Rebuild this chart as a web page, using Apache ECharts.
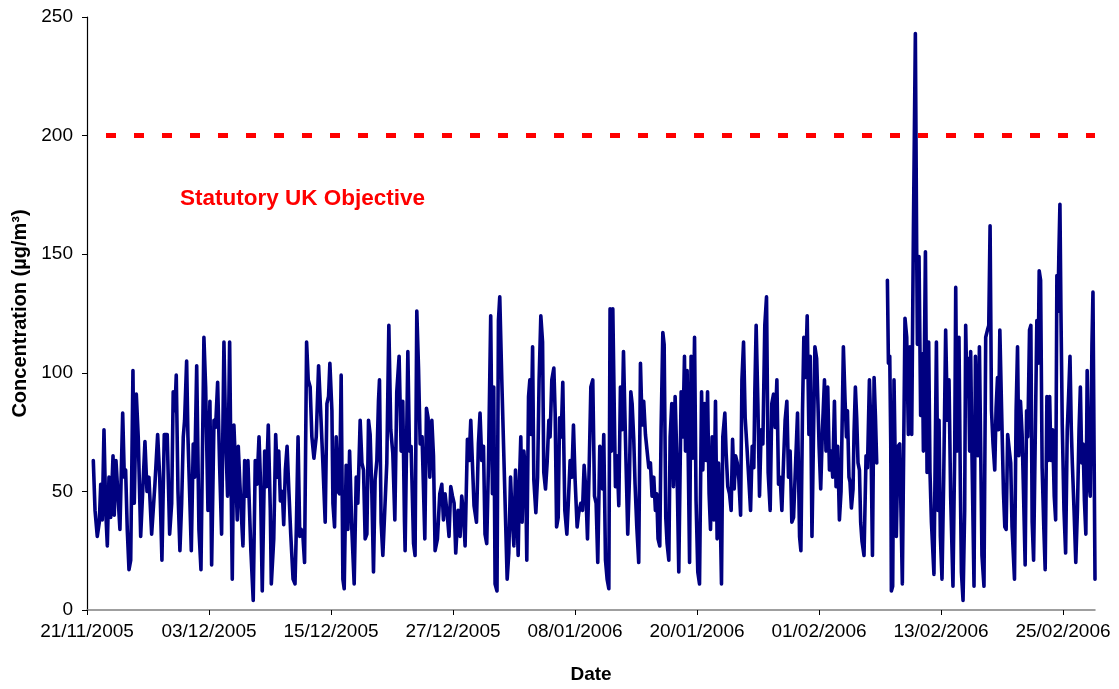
<!DOCTYPE html>
<html>
<head>
<meta charset="utf-8">
<title>Hourly concentration, November 2005 to February 2006</title>
<script src="https://cdn.jsdelivr.net/npm/echarts@6/dist/echarts.min.js"></script>
<style>
  html, body { margin: 0; padding: 0; background: #ffffff; }
  #chart { width: 1119px; height: 689px; }
</style>
</head>
<body>
<div id="chart"></div>
<script>
// Samples per month: [day of month (fraction = time of day), concentration µg/m³]
const nov05 = [
  [21.62,63],[21.79,42],[22.01,31],[22.21,37],[22.35,53],[22.50,38],[22.67,76],[22.84,42],[23.00,27],[23.16,56],
  [23.33,39],[23.56,65],[23.68,40],[23.85,63],[24.24,34],[24.51,83],[24.67,56],[24.80,59],[24.96,34],[25.13,17],
  [25.30,21],[25.52,101],[25.65,45],[25.85,91],[26.04,73],[26.28,31],[26.70,71],[26.90,50],[27.09,56],[27.36,32],
  [27.68,53],[27.95,74],[28.15,56],[28.37,21],[28.60,74],[28.89,74],[29.13,32],[29.33,45],[29.48,92],[29.65,84],
  [29.78,99],[29.95,50],[30.14,25],[30.31,45],[30.47,73],[30.60,80],[30.80,105],[30.93,73]
];
const dec05 = [
  [1.13,44],[1.26,25],[1.45,70],[1.59,56],[1.79,103],[2.01,34],[2.21,17],[2.50,115],[2.67,94],[2.90,42],
  [3.09,88],[3.26,19],[3.49,80],[3.65,77],[3.85,96],[4.05,60],[4.24,32],[4.47,113],[4.64,73],[4.83,48],
  [5.03,113],[5.19,48],[5.29,13],[5.45,78],[5.62,59],[5.78,38],[5.88,69],[6.04,53],[6.21,38],[6.34,27],
  [6.51,63],[6.66,48],[6.83,63],[6.93,49],[7.12,25],[7.35,4],[7.55,63],[7.72,53],[7.92,73],[8.05,56],
  [8.24,8],[8.48,67],[8.64,52],[8.83,78],[9.03,42],[9.13,11],[9.37,30],[9.56,74],[9.72,56],[9.86,67],
  [10.02,46],[10.21,50],[10.35,36],[10.51,59],[10.68,69],[10.87,49],[11.04,32],[11.27,13],[11.46,11],[11.59,34],
  [11.76,73],[11.93,31],[12.07,34],[12.24,31],[12.40,20],[12.60,113],[12.76,97],[12.95,94],[13.12,73],[13.32,64],
  [13.55,73],[13.78,103],[13.98,84],[14.20,62],[14.43,37],[14.60,87],[14.76,90],[14.89,104],[15.09,84],[15.19,45],
  [15.35,35],[15.51,73],[15.68,50],[15.84,49],[16.00,99],[16.17,13],[16.30,9],[16.49,61],[16.66,34],[16.83,67],
  [17.05,34],[17.28,11],[17.48,56],[17.64,45],[17.87,80],[18.04,62],[18.20,59],[18.36,30],[18.53,32],[18.69,80],
  [18.85,74],[19.02,49],[19.18,16],[19.34,55],[19.51,63],[19.67,88],[19.77,97],[19.93,37],[20.10,23],[20.26,39],
  [20.49,62],[20.69,120],[20.88,76],[21.08,66],[21.28,38],[21.47,92],[21.70,107],[21.90,67],[22.06,88],[22.23,37],
  [22.29,25],[22.56,109],[22.72,67],[22.88,69],[23.12,28],[23.27,23],[23.44,126],[23.61,102],[23.77,70],[23.96,73],
  [24.23,30],[24.39,85],[24.55,81],[24.72,56],[24.92,80],[25.08,65],[25.24,25],[25.47,30],[25.70,49],[25.90,53],
  [26.06,38],[26.22,49],[26.46,39],[26.61,31],[26.78,52],[26.95,48],[27.11,45],[27.27,24],[27.50,42],[27.70,31],
  [27.86,48],[28.03,41],[28.19,27],[28.42,72],[28.58,63],[28.75,80],[28.92,80],[29.07,44],[29.31,37],[29.50,70],
  [29.66,83],[29.83,63],[30.00,69],[30.15,32],[30.32,28],[30.49,62],[30.71,124],[30.88,49],[31.01,94],[31.14,11],
  [31.33,8],[31.47,122],[31.60,132],[31.80,97]
];
const jan06 = [
  [1.33,13],[1.49,24],[1.66,56],[1.82,39],[1.99,27],[2.15,59],[2.28,44],[2.41,23],[2.55,56],[2.67,73],
  [2.80,37],[2.97,67],[3.14,58],[3.26,21],[3.43,90],[3.56,97],[3.69,74],[3.83,111],[3.95,55],[4.15,41],
  [4.32,56],[4.47,97],[4.64,124],[4.81,113],[4.93,58],[5.10,51],[5.26,62],[5.43,80],[5.55,73],[5.72,97],
  [5.92,102],[6.05,83],[6.19,35],[6.35,39],[6.48,81],[6.64,73],[6.80,96],[7.00,42],[7.20,32],[7.33,44],
  [7.52,63],[7.69,56],[7.85,78],[8.01,55],[8.21,35],[8.37,41],[8.57,45],[8.74,42],[8.90,61],[9.06,51],
  [9.23,30],[9.39,59],[9.56,94],[9.75,97],[9.92,48],[10.08,45],[10.24,20],[10.44,69],[10.57,67],[10.71,51],
  [10.83,74],[11.00,21],[11.16,13],[11.33,9],[11.45,127],[11.59,67],[11.72,127],[11.88,80],[11.98,52],[12.14,65],
  [12.31,44],[12.47,94],[12.63,76],[12.77,109],[12.90,84],[13.06,55],[13.19,32],[13.36,56],[13.49,92],[13.62,87],
  [13.78,72],[13.91,53],[14.08,35],[14.27,20],[14.44,104],[14.60,78],[14.76,88],[14.93,74],[15.09,74],[15.26,60],
  [15.42,62],[15.58,48],[15.75,56],[15.91,42],[16.04,49],[16.17,30],[16.34,27],[16.47,76],[16.64,117],[16.77,112],
  [16.93,39],[17.06,28],[17.23,21],[17.36,73],[17.52,87],[17.69,52],[17.85,90],[18.02,64],[18.21,16],[18.44,92],
  [18.61,73],[18.77,107],[18.87,67],[19.03,101],[19.27,20],[19.42,107],[19.59,64],[19.76,115],[19.91,46],[20.08,16],
  [20.25,11],[20.45,92],[20.57,59],[20.74,87],[20.90,63],[21.04,92],[21.19,49],[21.33,34],[21.49,73],[21.66,38],
  [21.82,88],[21.98,30],[22.12,62],[22.31,35],[22.41,11],[22.54,73],[22.74,83],[22.87,66],[23.03,52],[23.20,49],
  [23.36,42],[23.50,72],[23.66,51],[23.80,65],[23.96,62],[24.12,55],[24.29,40],[24.42,97],[24.58,113],[24.74,81],
  [24.91,69],[25.10,55],[25.27,42],[25.43,69],[25.59,60],[25.69,92],[25.82,120],[25.99,87],[26.15,48],[26.31,76],
  [26.48,70],[26.67,120],[26.84,132],[27.00,58],[27.20,42],[27.36,87],[27.53,91],[27.69,77],[27.86,97],[28.02,53],
  [28.18,56],[28.35,42],[28.51,62],[28.67,80],[28.84,88],[29.00,56],[29.16,67],[29.33,37],[29.50,39],[29.65,56],
  [29.89,83],[30.09,31],[30.22,25],[30.38,84],[30.51,115],[30.68,98],[30.84,124],[31.01,74],[31.14,107],[31.31,31],
  [31.47,76],[31.60,111],[31.77,106],[31.90,87]
];
// null marks the hours with no measurement (break in the line)
const feb06 = [
  [1.01,69],[1.17,51],[1.34,76],[1.54,97],[1.69,67],[1.86,94],[2.03,59],[2.19,67],[2.35,56],[2.52,88],
  [2.68,52],[2.84,69],[3.01,38],[3.17,50],[3.40,111],[3.56,89],[3.70,73],[3.80,84],[3.95,56],[4.05,54],
  [4.19,43],[4.35,51],[4.45,75],[4.58,94],[4.71,81],[4.84,62],[4.98,59],[5.10,37],[5.23,29],[5.43,23],
  [5.63,65],[5.77,60],[5.96,97],[6.09,79],[6.26,23],[6.42,98],[6.55,82],[6.68,62],[7.20,null],[7.73,139],
  [7.83,104],[7.96,107],[8.06,70],[8.12,8],[8.25,10],[8.38,97],[8.61,31],[8.77,69],[8.94,70],[9.20,11],
  [9.46,123],[9.63,115],[9.79,74],[9.95,111],[10.12,74],[10.29,161],[10.48,243],[10.61,152],[10.68,112],[10.84,149],
  [11.00,82],[11.17,108],[11.27,67],[11.47,151],[11.63,58],[11.79,113],[11.92,58],[12.06,37],[12.31,15],[12.55,113],
  [12.71,42],[12.81,80],[12.94,31],[13.10,13],[13.27,56],[13.46,118],[13.63,80],[13.79,97],[13.95,48],[14.18,10],
  [14.35,67],[14.45,136],[14.58,67],[14.77,115],[14.91,51],[15.01,16],[15.17,4],[15.33,42],[15.43,120],[15.56,90],
  [15.70,106],[15.82,67],[15.92,109],[16.05,65],[16.25,10],[16.39,107],[16.52,76],[16.65,65],[16.78,111],[16.91,67],
  [17.03,23],[17.23,10],[17.40,115],[17.57,118],[17.70,120],[17.83,162],[17.97,84],[18.12,70],[18.29,59],[18.42,85],
  [18.56,98],[18.66,76],[18.79,118],[18.96,85],[19.15,49],[19.28,35],[19.41,34],[19.56,74],[19.73,67],[19.86,62],
  [19.99,35],[20.23,13],[20.39,84],[20.53,111],[20.66,65],[20.82,88],[20.98,74],[21.12,49],[21.28,19],[21.42,84],
  [21.54,73],[21.71,118],[21.84,120],[21.97,37],[22.11,21],[22.30,21],[22.43,122],[22.56,104],[22.66,143],[22.80,139],
  [22.95,60],[23.12,34],[23.25,17],[23.42,90],[23.55,63],[23.69,90],[23.82,63],[23.98,76],[24.14,48],[24.28,38],
  [24.40,141],[24.50,126],[24.60,151],[24.70,171],[24.80,126],[24.93,78],[25.10,42],[25.26,24],[25.42,76],[25.56,91],
  [25.69,107],[25.82,76],[25.92,62],[26.09,42],[26.26,20],[26.42,42],[26.58,76],[26.71,94],[26.85,62],[26.98,70],
  [27.11,46],[27.25,32],[27.38,101],[27.51,56],[27.68,48],[27.85,112],[27.95,134],[28.05,73],[28.15,13]
];

// Statutory UK objective (µg/m³) and the period it is drawn over, as days after 21/11/2005
const objectiveLevel = 200;
const objectiveSpan = [1.87, 99.15];

const dateTicks = ['21/11/2005','03/12/2005','15/12/2005','27/12/2005','08/01/2006',
                   '20/01/2006','01/02/2006','13/02/2006','25/02/2006'];
const concTicks = [0, 50, 100, 150, 200, 250];

// Time is measured in days after midnight on 21/11/2005
const DAY = 86400000;
const ORIGIN = Date.UTC(2005, 10, 21);
const axisEnd = 99.15;

function monthSeries(year, month, rows) {
  const base = (Date.UTC(year, month, 1) - ORIGIN) / DAY;
  return rows.map(r => [base + r[0] - 1, r[1]]);
}
function parseDay(s) {
  const p = s.split('/').map(Number);
  return (Date.UTC(p[2], p[1] - 1, p[0]) - ORIGIN) / DAY;
}
function pad(n) { return (n < 10 ? '0' : '') + n; }
function dayLabel(v) {
  const d = new Date(ORIGIN + Math.round(v * DAY));
  return pad(d.getUTCDate()) + '/' + pad(d.getUTCMonth() + 1) + '/' + d.getUTCFullYear();
}

const concData = [].concat(
  monthSeries(2005, 10, nov05),
  monthSeries(2005, 11, dec05),
  monthSeries(2006, 0, jan06),
  monthSeries(2006, 1, feb06)
);
const tickDays = dateTicks.map(parseDay);

const FONT = '"Liberation Sans", Arial, Helvetica, sans-serif';

const chart = echarts.init(document.getElementById('chart'), null, { renderer: 'canvas' });
chart.setOption({
  animation: false,
  backgroundColor: '#ffffff',
  grid: { left: 87, right: 24, top: 17, bottom: 75, containLabel: false },
  xAxis: {
    type: 'value',
    min: 0,
    max: axisEnd,
    interval: 12,
    name: 'Date',
    nameLocation: 'middle',
    nameGap: 55,
    nameTextStyle: { fontFamily: FONT, fontSize: 19, fontWeight: 'bold', color: '#000' },
    axisLine: { show: true, onZero: false, lineStyle: { color: '#808080', width: 1.5 } },
    axisTick: { show: true, length: 5, inside: false, customValues: tickDays, lineStyle: { color: '#000', width: 1 } },
    axisLabel: {
      customValues: tickDays,
      margin: 12,
      fontFamily: FONT, fontSize: 19, color: '#000',
      formatter: v => dayLabel(v)
    },
    splitLine: { show: false }
  },
  yAxis: {
    type: 'value',
    min: concTicks[0],
    max: concTicks[concTicks.length - 1],
    interval: concTicks[1] - concTicks[0],
    name: 'Concentration (µg/m³)',
    nameLocation: 'middle',
    nameRotate: 90,
    nameGap: 57,
    nameTextStyle: { fontFamily: FONT, fontSize: 20, fontWeight: 'bold', color: '#000' },
    axisLine: { show: true, lineStyle: { color: '#000', width: 1.2 } },
    axisTick: { show: true, length: 5, inside: false, lineStyle: { color: '#000', width: 1 } },
    axisLabel: { margin: 14, fontFamily: FONT, fontSize: 19, color: '#000' },
    splitLine: { show: false }
  },
  graphic: [{
    type: 'text',
    left: 180,
    top: 187,
    style: {
      text: 'Statutory UK Objective',
      fill: '#ff0000',
      font: 'bold 22.5px ' + FONT
    }
  }],
  series: [
    {
      name: 'Concentration',
      type: 'line',
      data: concData,
      showSymbol: false,
      symbol: 'none',
      connectNulls: false,
      sampling: false,
      lineStyle: { color: '#000080', width: 3.6, join: 'round', cap: 'round' },
      z: 2
    },
    {
      name: 'Statutory UK Objective',
      type: 'line',
      data: [[objectiveSpan[0], objectiveLevel], [objectiveSpan[1], objectiveLevel]],
      showSymbol: false,
      symbol: 'none',
      lineStyle: { color: '#ff0000', width: 5, type: [10, 18], cap: 'butt' },
      z: 3
    }
  ]
});
</script>
</body>
</html>
